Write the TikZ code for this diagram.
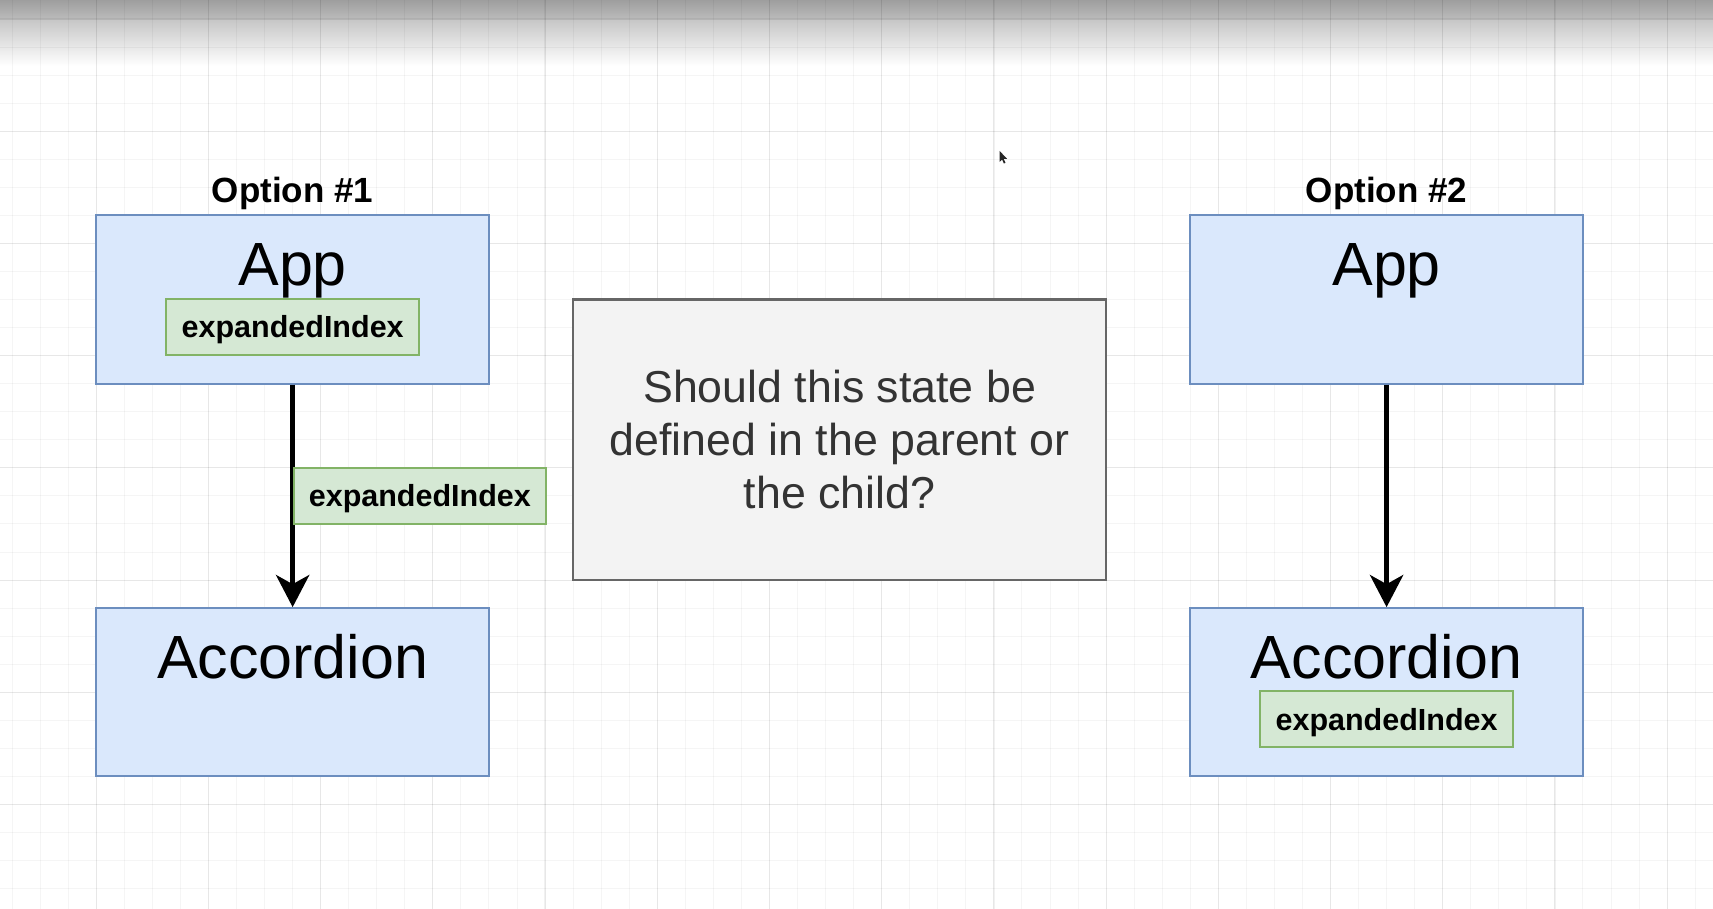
\documentclass[tikz,border=0pt]{standalone}
\usepackage{fontspec}
\setmainfont{Liberation Sans}
\usepackage{xcolor}
\definecolor{compfill}{HTML}{DAE8FC}
\definecolor{compline}{HTML}{6C8EBF}
\definecolor{statefill}{HTML}{D5E8D4}
\definecolor{stateline}{HTML}{82B366}
\definecolor{askfill}{HTML}{F3F3F3}
\definecolor{askline}{HTML}{666666}
\definecolor{asktext}{HTML}{333333}
\usetikzlibrary{arrows.meta}
\usetikzlibrary{positioning}
\usetikzlibrary{calc}

\newcommand{\cell}{28.05pt}
\newcommand{\compfont}{\fontsize{61}{73}\selectfont}
\newcommand{\statefont}{\bfseries\fontsize{30.5}{36}\selectfont}
\newcommand{\optionfont}{\bfseries\fontsize{35}{42}\selectfont}
\newcommand{\askfont}{\fontsize{44.7}{53}\selectfont}

\tikzset{
  comp/.style={draw=compline, fill=compfill, line width=2pt, inner sep=0pt,
    minimum width=14*\cell, minimum height=6*\cell},
  statebox/.style={draw=stateline, fill=statefill, line width=2pt, inner sep=0pt,
    minimum width=9*\cell, minimum height=2*\cell, font=\statefont,
    text height=22pt, text depth=0pt},
  compname/.style={anchor=base, font=\compfont},
  optiontitle/.style={anchor=base, font=\optionfont},
  askbox/.style={draw=askline, fill=askfill, line width=2.5pt, inner sep=0pt,
    minimum width=19*\cell, minimum height=10*\cell, align=center,
    text=asktext, font=\askfont},
  flow/.style={line width=5.5pt, -{Stealth[length=32pt,width=33pt,inset=9pt]}},
  minorgrid/.style={line width=1pt, draw=black, opacity=0.04},
  majorgrid/.style={line width=1.2pt, draw=black, opacity=0.055},
}

\begin{document}
\begin{tikzpicture}[x=\cell, y=-\cell]

  % page
  \useasboundingbox (-3.433,-7.681) rectangle (57.637,24.725);
  \clip (-3.433,-7.681) rectangle (57.637,24.725);
  \fill[white] (-3.433,-7.681) rectangle (57.637,24.725);

  % top shadow of the window
  \begin{scope}[shift={(-3.433,-7.681)}, x=1pt, y=-1pt]
    \shade[top color=black!38, bottom color=black!26] (0,0) rectangle (1713,20);
    \shade[top color=black!22, bottom color=white] (0,20) rectangle (1713,66);
  \end{scope}

  % grid
  \foreach \k in {-3,...,57} \draw[minorgrid] (\k,-7.7) -- (\k,24.8);
  \foreach \k in {0,4,...,56} \draw[majorgrid] (\k,-7.7) -- (\k,24.8);
  \foreach \k in {-7,...,24} \draw[minorgrid] (-3.5,\k) -- (57.7,\k);
  \foreach \k in {-7,-3,...,21} \draw[majorgrid] (-3.5,\k) -- (57.7,\k);

  % Option 1
  \node[comp] (app1) at (7,3) {};
  \node[optiontitle] (opt1) at ($(app1.north)+(0,-0.41)$) {Option \#1};
  \node[compname] (app1name) at ($(app1.north)+(0,2.52)$) {App};
  \node[statebox] (app1state) at ($(app1.north)+(0,4)$) {expandedIndex};

  \node[comp] (acc1) at (7,17) {};
  \node[compname] (acc1name) at ($(acc1.north)+(0,2.54)$) {Accordion};

  \draw[flow] (app1) -- node[statebox, pos=0.5, anchor=west] (prop1) {expandedIndex} (acc1);

  % question
  \node[askbox] (ask) at (26.5,8) {Should this state be\\defined in the parent or\\the child?};

  % Option 2
  \node[comp] (app2) at (46,3) {};
  \node[optiontitle] (opt2) at ($(app2.north)+(0,-0.41)$) {Option \#2};
  \node[compname] (app2name) at ($(app2.north)+(0,2.52)$) {App};

  \node[comp] (acc2) at (46,17) {};
  \node[compname] (acc2name) at ($(acc2.north)+(0,2.54)$) {Accordion};
  \node[statebox] (acc2state) at ($(acc2.north)+(0,4)$) {expandedIndex};

  \draw[flow] (app2) -- (acc2);

  % mouse pointer
  \begin{scope}[shift={(32.2,-2.3)}, x=1pt, y=-1pt]
    \fill[black!85] (0,0) -- (0,11) -- (2.6,8.6) -- (4.4,12.6) -- (6,11.9) -- (4.2,8) -- (7.6,7.8) -- cycle;
  \end{scope}

\end{tikzpicture}
\end{document}
